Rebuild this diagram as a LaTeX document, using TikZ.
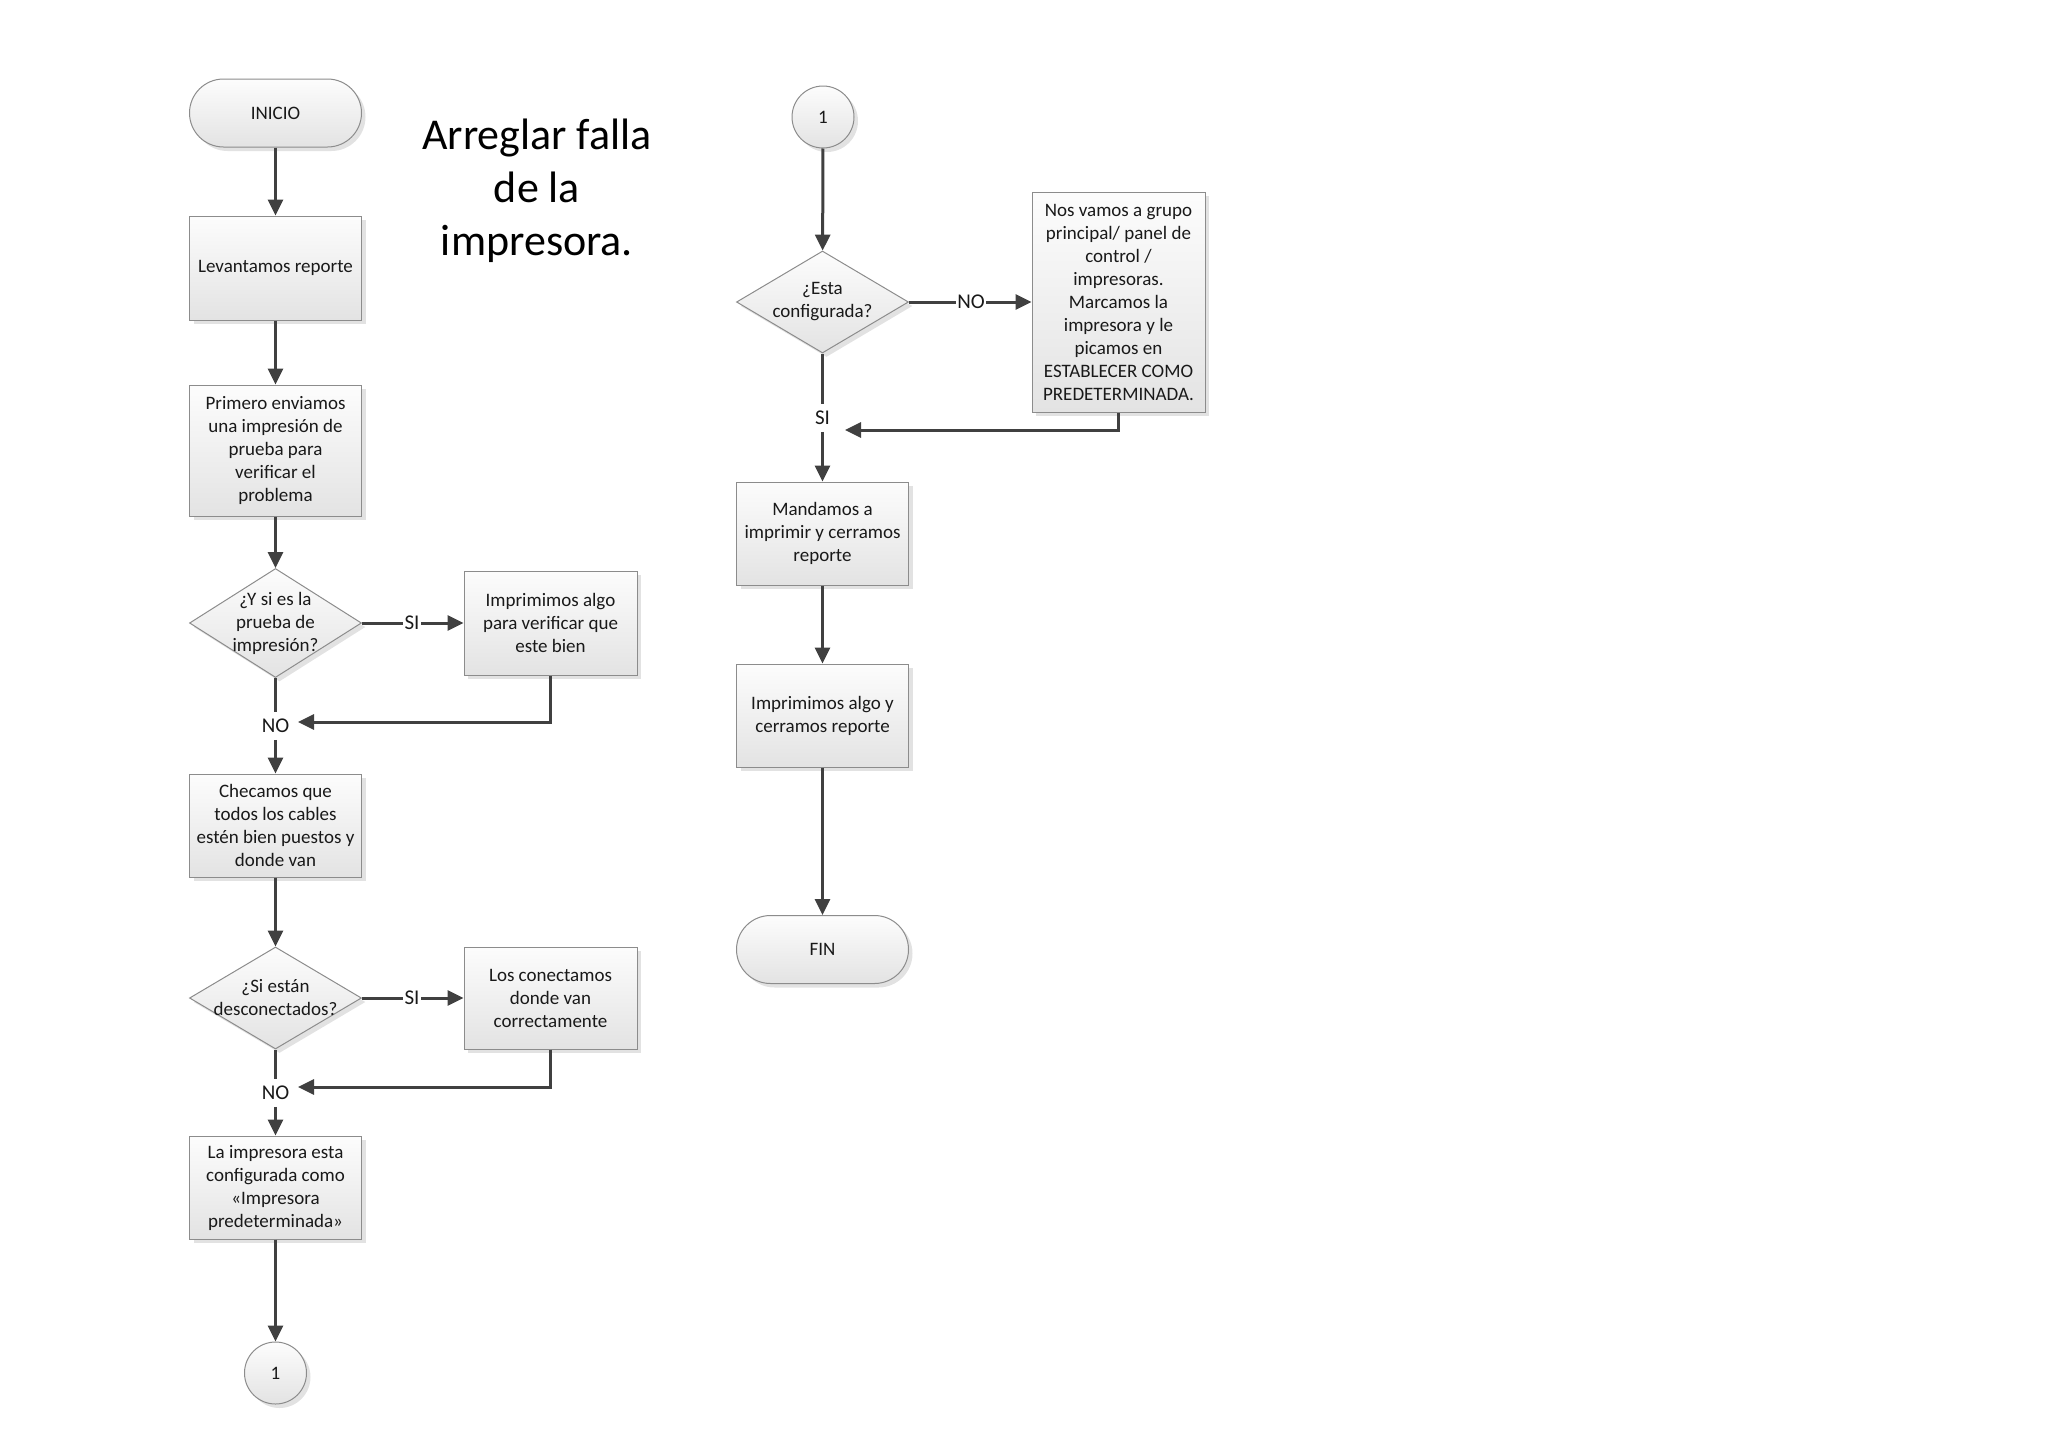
\documentclass[tikz,border=0pt]{standalone}
\usepackage{fontspec}
\setmainfont{Carlito}
\usetikzlibrary{arrows.meta,shapes.geometric,shadows,calc}
\begin{document}
\begin{tikzpicture}[x=1pt,y=-1pt,
  every node/.style={text=black!90},
  body/.style={font=\fontsize{19}{23}\selectfont, align=center},
  shp/.style={draw=black!45, line width=1pt, top color=black!1, bottom color=black!11,
    drop shadow={shadow xshift=4pt, shadow yshift=-4pt, opacity=0.25, fill=black!45}},
  box/.style={shp, body, rectangle, minimum width=172pt, inner sep=2pt},
  term/.style={shp, body, rectangle, rounded corners=34pt, minimum width=172pt, minimum height=68pt},
  dia/.style={shp, diamond, minimum width=172pt, minimum height=#1, inner sep=0pt},
  conn/.style={shp, body, circle, minimum size=62pt, inner sep=0pt},
  lbl/.style={font=\fontsize{21}{25}\selectfont, text height=13.5pt, text depth=0pt, inner xsep=1.5pt, inner ysep=7pt},
  flow/.style={line width=3pt, draw=black!75, -{Triangle[length=16pt,width=15pt]}},
  seg/.style={line width=3pt, draw=black!75},
]
\useasboundingbox (0,0) rectangle (2048,1448);

% title
\node[font=\fontsize{44}{53}\selectfont, align=center, text=black] (title) at (537,191) {Arreglar falla\\de la\\impresora.};

% left column
\node[term] (inicio) at (275.5,113) {INICIO};
\node[box, minimum height=104pt] (lev) at (275.5,268) {Levantamos reporte};
\node[box, minimum height=131pt] (prim) at (275.5,450.5) {Primero enviamos\\una impresión de\\prueba para\\verificar el\\problema};
\node[dia=109pt, label={[body]center:{¿Y si es la\\prueba de\\impresión?}}] (d1) at (275.5,623) {};
\node[box, minimum height=104pt, minimum width=173pt] (imp1) at (550.5,623) {Imprimimos algo\\para verificar que\\este bien};
\node[lbl] (si1) at (412,623) {SI};
\coordinate (r1) at (298,722);
\node[lbl] (no1) at (275.5,726) {NO};
\node[box, minimum height=103pt] (chec) at (275.5,825.5) {Checamos que\\todos los cables\\estén bien puestos y\\donde van};
\node[dia=102pt, label={[body]center:{¿Si están\\desconectados?}}] (d2) at (275.5,998) {};
\node[box, minimum height=102pt, minimum width=173pt] (con) at (550.5,998) {Los conectamos\\donde van\\correctamente};
\node[lbl] (si2) at (412,998) {SI};
\coordinate (r2) at (298,1087);
\node[lbl] (no2) at (275.5,1093) {NO};
\node[box, minimum height=103pt] (la) at (275.5,1187.5) {La impresora esta\\configurada como\\«Impresora\\predeterminada»};
\node[conn] (c1) at (275.5,1373) {1};

% right column
\node[conn] (c2) at (823,117) {1};
\node[dia=102pt, label={[body]center:{¿Esta\\configurada?}}] (d3) at (822.5,302) {};
\node[box, minimum height=220pt, minimum width=173pt] (nos) at (1118.5,302) {Nos vamos a grupo\\principal/ panel de\\control /\\impresoras.\\Marcamos la\\impresora y le\\picamos en\\ESTABLECER COMO\\PREDETERMINADA.};
\node[lbl] (no3) at (971,302) {NO};
\coordinate (r3) at (845,430);
\node[lbl] (si3) at (822.5,418) {SI};
\node[box, minimum height=103pt] (mand) at (822.5,533.5) {Mandamos a\\imprimir y cerramos\\reporte};
\node[box, minimum height=103pt] (impy) at (822.5,715.5) {Imprimimos algo y\\cerramos reporte};
\node[term] (fin) at (822.5,949.5) {FIN};

% connectors left
\draw[flow] (inicio) -- (lev);
\draw[flow] (lev) -- (prim);
\draw[flow] (prim) -- (d1);
\draw[seg] (d1) -- (si1);
\draw[flow] (si1) -- (imp1);
\draw[flow] (imp1.south) |- (r1);
\draw[seg] (d1) -- (no1);
\draw[flow] (no1) -- (chec);
\draw[flow] (chec) -- (d2);
\draw[seg] (d2) -- (si2);
\draw[flow] (si2) -- (con);
\draw[flow] (con.south) |- (r2);
\draw[seg] (d2) -- (no2);
\draw[flow] (no2) -- (la);
\draw[flow] (la) -- (c1);

% connectors right
\draw[flow] (c2) -- (d3);
\draw[seg] (d3) -- (no3);
\draw[flow] (no3) -- (nos);
\draw[flow] (nos.south) |- (r3);
\draw[seg] (d3) -- (si3);
\draw[flow] (si3) -- (mand);
\draw[flow] (mand) -- (impy);
\draw[flow] (impy) -- (fin);
\end{tikzpicture}
\end{document}
